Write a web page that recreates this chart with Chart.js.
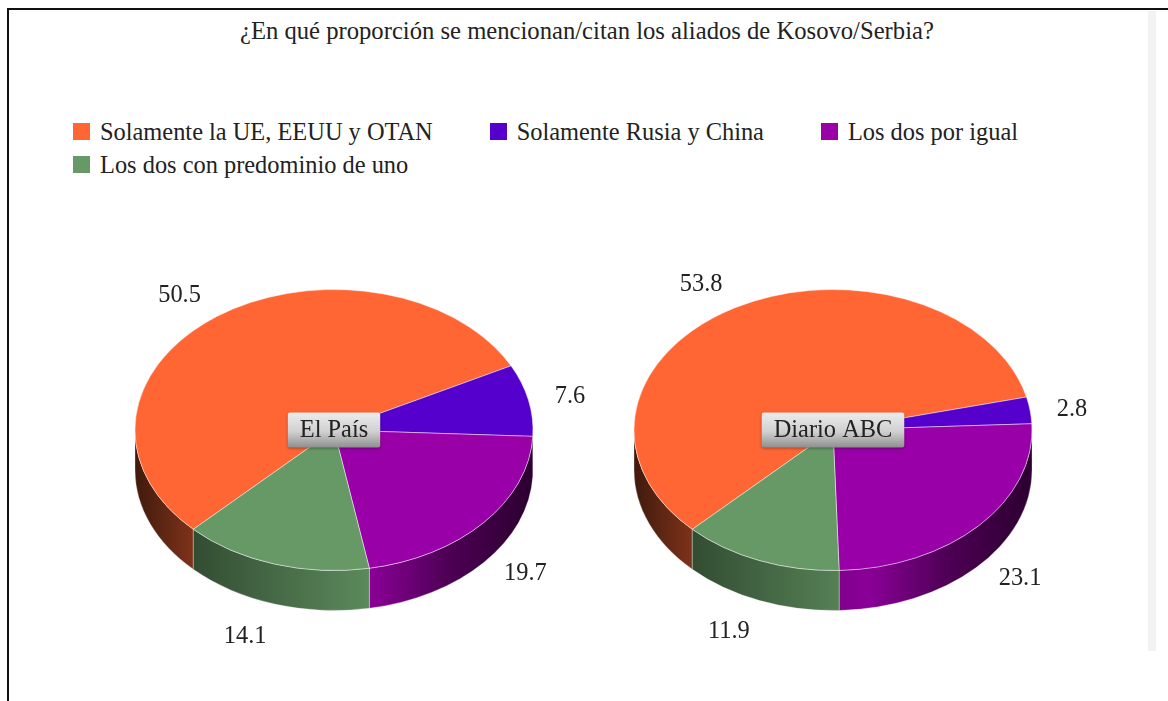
<!DOCTYPE html>
<html>
<head>
<meta charset="utf-8">
<script src="https://cdn.jsdelivr.net/npm/chart.js@4"></script>
<style>
  html, body { margin: 0; padding: 0; background: #fff; }
  body { width: 1168px; height: 701px; position: relative; overflow: hidden; font-family: "Liberation Serif", serif; color: #222; }
  #frame { position: absolute; left: 7px; top: 8px; right: 0; bottom: -4px; border-left: 2px solid #111; border-top: 2px solid #111; }
  #strip { position: absolute; left: 1148px; top: 11px; width: 8px; height: 640px; background: #f2f2f2; }
  #title { position: absolute; left: 240px; top: 17px; font-size: 24.65px; line-height: 28px; white-space: nowrap; }
  #legend { position: absolute; left: 73px; top: 115px; width: 1030px; display: flex; flex-wrap: wrap; font-size: 24.4px; line-height: 33px; }
  #legend div { display: flex; align-items: center; margin-right: 57px; white-space: nowrap; }
  #legend i { display: inline-block; width: 17px; height: 17px; margin-right: 10px; }
  canvas { position: absolute; }
  #pie1 { left: 64px; top: 190px; }
  #pie2 { left: 563px; top: 190px; }
</style>
</head>
<body>
<div id="frame"></div>
<div id="strip"></div>
<div id="title">¿En qué proporción se mencionan/citan los aliados de Kosovo/Serbia?</div>
<div id="legend"></div>
<canvas id="pie1" width="540" height="480"></canvas>
<canvas id="pie2" width="540" height="480"></canvas>
<script>
const categories = ["Solamente la UE, EEUU y OTAN", "Solamente Rusia y China", "Los dos por igual", "Los dos con predominio de uno"];
const elPaisValues = [50.5, 7.6, 19.7, 14.1];
const abcValues = [53.8, 2.8, 23.1, 11.9];
const sliceColors = ["#ff6633", "#5500cc", "#9900a8", "#669966"];

const RADIUS = 199;
const SQUASH = 140.5 / 199;
const DEPTH = 40;

// legend
sliceColors.forEach((color, i) => {
  const item = document.createElement("div");
  item.innerHTML = '<i style="background:' + color + '"></i>' + categories[i];
  document.getElementById("legend").appendChild(item);
});

// side wall brightness, left to right across the pie
const shadeStops = [[0, 0.25], [0.15, 0.5], [0.59, 0.9], [0.79, 0.5], [1, 0.28]];

function shade(hex, k) {
  const n = parseInt(hex.slice(1), 16);
  return "rgb(" + Math.round((n >> 16) * k) + "," + Math.round(((n >> 8) & 255) * k) + "," + Math.round((n & 255) * k) + ")";
}

function drawWalls(chart) {
  const ctx = chart.ctx;
  chart.getDatasetMeta(0).data.forEach((arc, i) => {
    const ry = arc.outerRadius * SQUASH;
    const sweep = arc.endAngle - arc.startAngle;
    const start = ((arc.startAngle % (2 * Math.PI)) + 2 * Math.PI) % (2 * Math.PI);
    [0, 2 * Math.PI].forEach((turn) => {
      const a = Math.max(start, turn);
      const b = Math.min(start + sweep, turn + Math.PI);
      if (b <= a) return;
      const grad = ctx.createLinearGradient(arc.x - arc.outerRadius, 0, arc.x + arc.outerRadius, 0);
      shadeStops.forEach((s) => grad.addColorStop(s[0], shade(sliceColors[i], s[1])));
      ctx.beginPath();
      ctx.ellipse(arc.x, arc.y, arc.outerRadius, ry, 0, a, b);
      ctx.ellipse(arc.x, arc.y + DEPTH, arc.outerRadius, ry, 0, b, a, true);
      ctx.closePath();
      ctx.fillStyle = grad;
      ctx.fill();
      ctx.strokeStyle = "rgba(255,255,255,0.3)";
      ctx.lineWidth = 1;
      ctx.stroke();
    });
  });
}

const tilted = {
  id: "tilted",
  beforeDatasetsDraw(chart) {
    const ctx = chart.ctx;
    const arc = chart.getDatasetMeta(0).data[0];
    drawWalls(chart);
    ctx.save();
    ctx.translate(arc.x, arc.y);
    ctx.scale(1, SQUASH);
    ctx.translate(-arc.x, -arc.y);
  },
  afterDatasetsDraw(chart, args, opts) {
    const ctx = chart.ctx;
    ctx.restore();
    const meta = chart.getDatasetMeta(0);
    const values = chart.data.datasets[0].data;

    // value labels
    ctx.font = '24.4px "Liberation Serif"';
    ctx.fillStyle = "#222";
    ctx.textBaseline = "middle";
    meta.data.forEach((arc, i) => {
      const mid = (arc.startAngle + arc.endAngle) / 2;
      const c = Math.cos(mid);
      const s = Math.sin(mid);
      const x = arc.x + c * (arc.outerRadius + 27);
      const y = arc.y + 3 + s * (arc.outerRadius * SQUASH + 30 + (s > 0 ? DEPTH + 3 : 0));
      ctx.textAlign = c < 0 ? "right" : "left";
      ctx.fillText(values[i].toFixed(1), x, y);
    });

    // name tag in the middle
    const arc = meta.data[0];
    const w = ctx.measureText(opts.text).width + 24;
    const h = 35;
    const left = arc.x - w / 2;
    const top = arc.y - h / 2;
    const grad = ctx.createLinearGradient(0, top, 0, top + h);
    grad.addColorStop(0, "#ececec");
    grad.addColorStop(0.55, "#d0d0d0");
    grad.addColorStop(1, "#8f8f8f");
    ctx.save();
    ctx.shadowColor = "rgba(0,0,0,0.35)";
    ctx.shadowBlur = 3;
    ctx.shadowOffsetY = 1;
    ctx.fillStyle = grad;
    ctx.beginPath();
    ctx.roundRect(left, top, w, h, 2);
    ctx.fill();
    ctx.restore();
    ctx.fillStyle = "#222";
    ctx.textAlign = "center";
    ctx.fillText(opts.text, arc.x, arc.y + 1);
  },
};

function makePie(id, values, name, rotation) {
  return new Chart(document.getElementById(id).getContext("2d"), {
    type: "pie",
    data: {
      labels: categories,
      datasets: [
        {
          data: values,
          backgroundColor: sliceColors,
          borderColor: "rgba(255,255,255,0.55)",
          borderWidth: 1,
          radius: RADIUS,
        },
      ],
    },
    options: {
      responsive: false,
      animation: false,
      rotation: rotation,
      events: [],
      plugins: {
        legend: { display: false },
        tooltip: { enabled: false },
        tilted: { text: name },
      },
    },
    plugins: [tilted],
  });
}

makePie("pie1", elPaisValues, "El País", 225);
makePie("pie2", abcValues, "Diario ABC", 225);
</script>
</body>
</html>
